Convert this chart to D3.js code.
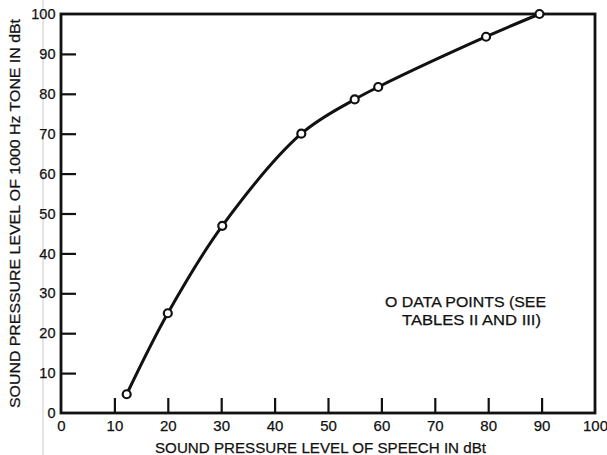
<!DOCTYPE html>
<html>
<head>
<meta charset="utf-8">
<script src="https://cdn.jsdelivr.net/npm/d3@7"></script>
<style>
  html, body { margin: 0; padding: 0; background: #fff; }
  svg { display: block; }
  text { font-family: "Liberation Sans", Arial, Helvetica, sans-serif; fill: #111; stroke: #111; stroke-width: 0.25px; }
</style>
</head>
<body>
<svg id="chart" width="607" height="455"></svg>
<script>
// Speech level (dBt) and the matching 1000 Hz tone level (dBt)
const speechLevel = [12.3, 20, 30.2, 45, 55, 59.4, 79.6, 89.6];
const toneLevel   = [4.7, 25, 46.9, 70, 78.6, 81.7, 94.3, 100];
const xTicks = [0, 10, 20, 30, 40, 50, 60, 70, 80, 90, 100];
const yTicks = [0, 10, 20, 30, 40, 50, 60, 70, 80, 90, 100];
const xTitle = "SOUND PRESSURE LEVEL OF SPEECH IN dBt";
const yTitle = "SOUND PRESSURE LEVEL OF 1000 Hz TONE IN dBt";
const legendLines = ["O DATA POINTS (SEE", "TABLES II AND III)"];

(function () {
const svg = d3.select("#chart");
const plotLeft = 61, plotRight = 595, plotTop = 14, plotBottom = 413;

const x = d3.scaleLinear().domain([0, 100]).range([plotLeft, plotRight]);
const y = d3.scaleLinear().domain([0, 100]).range([plotBottom, plotTop]);

// faint vertical crease in the paper
svg.append("line")
  .attr("x1", 43).attr("x2", 43).attr("y1", 0).attr("y2", 455)
  .attr("stroke", "#e4e4e4").attr("stroke-width", 2);

// frame
svg.append("rect")
  .attr("x", plotLeft).attr("y", plotTop)
  .attr("width", plotRight - plotLeft).attr("height", plotBottom - plotTop)
  .attr("fill", "none").attr("stroke", "#111").attr("stroke-width", 2.8);

// x axis: inward ticks
const xAxis = d3.axisBottom(x).tickValues(xTicks).tickSizeInner(-15).tickSizeOuter(0).tickPadding(7);
const gx = svg.append("g").attr("transform", `translate(0,${plotBottom})`).call(xAxis);
gx.select(".domain").remove();
gx.selectAll(".tick line").attr("stroke", "#111").attr("stroke-width", 2.2)
  .attr("display", d => (d === 0 || d === 100) ? "none" : null);
gx.selectAll(".tick text").attr("font-size", 15).attr("font-family", null).attr("fill", "#111");

// y axis: inward ticks
const yAxis = d3.axisLeft(y).tickValues(yTicks).tickSizeInner(-15).tickSizeOuter(0).tickPadding(5.5);
const gy = svg.append("g").attr("transform", `translate(${plotLeft},0)`).call(yAxis);
gy.select(".domain").remove();
gy.selectAll(".tick line").attr("stroke", "#111").attr("stroke-width", 2.2)
  .attr("display", d => (d === 0 || d === 100) ? "none" : null);
gy.selectAll(".tick text").attr("font-size", 14.5).attr("font-family", null).attr("fill", "#111");

// axis titles
svg.append("text")
  .attr("x", 155).attr("y", 453)
  .attr("font-size", 15.5)
  .attr("textLength", 331).attr("lengthAdjust", "spacingAndGlyphs")
  .text(xTitle);

svg.append("text")
  .attr("transform", `translate(20,408) rotate(-90)`)
  .attr("font-size", 15.5)
  .attr("textLength", 389).attr("lengthAdjust", "spacingAndGlyphs")
  .text(yTitle);

// fitted curve through the data points
const pts = speechLevel.map((s, i) => [s, toneLevel[i]]);
const line = d3.line().x(d => x(d[0])).y(d => y(d[1])).curve(d3.curveCatmullRom.alpha(0.5));
svg.append("path")
  .attr("d", line(pts))
  .attr("fill", "none").attr("stroke", "#111").attr("stroke-width", 3);

svg.selectAll("circle.pt").data(pts).join("circle")
  .attr("class", "pt")
  .attr("cx", d => x(d[0])).attr("cy", d => y(d[1]))
  .attr("r", 4)
  .attr("fill", "#fff").attr("stroke", "#111").attr("stroke-width", 2.2);

// legend note
svg.append("text").attr("x", 385).attr("y", 306.5).attr("font-size", 14.5)
  .attr("textLength", 161).attr("lengthAdjust", "spacingAndGlyphs").text(legendLines[0]);
svg.append("text").attr("x", 402).attr("y", 325).attr("font-size", 14.5)
  .attr("textLength", 139).attr("lengthAdjust", "spacingAndGlyphs").text(legendLines[1]);
})();
</script>
</body>
</html>
